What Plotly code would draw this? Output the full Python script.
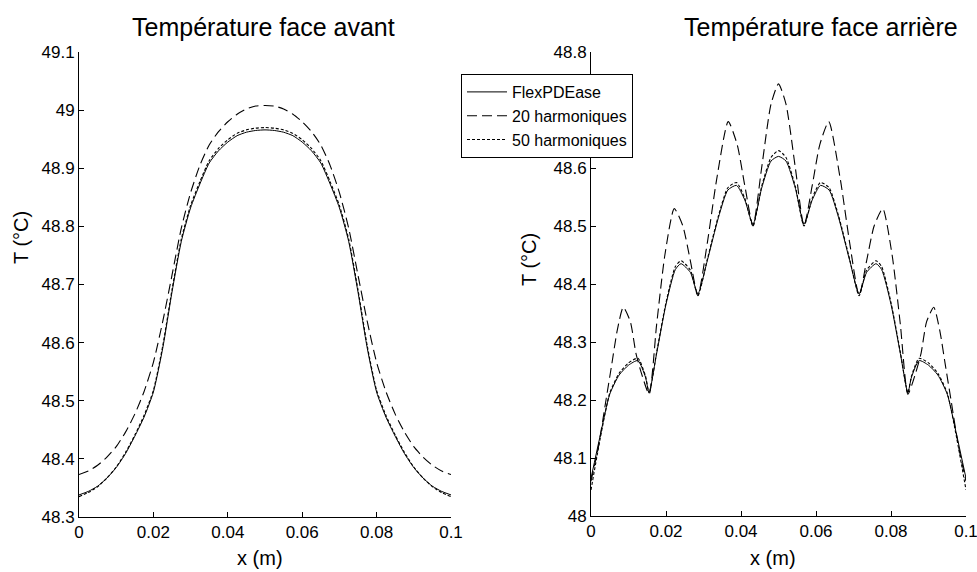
import plotly.graph_objects as go

# ---------------- data ----------------
series_names = ["FlexPDEase", "20 harmoniques", "50 harmoniques"]

# Left: Température face avant
x_av = [0, 0.0025, 0.005, 0.0075, 0.01, 0.0125, 0.015, 0.0175, 0.02, 0.0225, 0.025,
        0.0275, 0.03, 0.0325, 0.035, 0.0375, 0.04, 0.0425, 0.045, 0.0475, 0.05,
        0.0525, 0.055, 0.0575, 0.06, 0.0625, 0.065, 0.0675, 0.07, 0.0725, 0.075,
        0.0775, 0.08, 0.0825, 0.085, 0.0875, 0.09, 0.0925, 0.095, 0.0975, 0.1]
t_av_flex = [48.338, 48.344, 48.353, 48.367, 48.385, 48.409, 48.439, 48.472, 48.515, 48.590, 48.687,
             48.774, 48.832, 48.873, 48.909, 48.930, 48.945, 48.956, 48.962, 48.965, 48.966,
             48.965, 48.962, 48.956, 48.945, 48.930, 48.909, 48.873, 48.832, 48.774, 48.687,
             48.590, 48.515, 48.472, 48.439, 48.409, 48.385, 48.367, 48.353, 48.344, 48.338]
t_av_h20 = [48.373, 48.379, 48.389, 48.403, 48.421, 48.446, 48.477, 48.516, 48.566, 48.636, 48.716,
            48.797, 48.858, 48.905, 48.940, 48.963, 48.980, 48.993, 49.002, 49.007, 49.008,
            49.007, 49.002, 48.993, 48.980, 48.963, 48.940, 48.905, 48.858, 48.797, 48.716,
            48.636, 48.566, 48.516, 48.477, 48.446, 48.421, 48.403, 48.389, 48.379, 48.373]
t_av_h50 = [48.335, 48.342, 48.352, 48.367, 48.386, 48.411, 48.441, 48.475, 48.518, 48.594, 48.691,
            48.778, 48.836, 48.877, 48.913, 48.934, 48.949, 48.960, 48.966, 48.969, 48.970,
            48.969, 48.966, 48.960, 48.949, 48.934, 48.913, 48.877, 48.836, 48.778, 48.691,
            48.594, 48.518, 48.475, 48.441, 48.411, 48.386, 48.367, 48.352, 48.342, 48.335]

# Right: Température face arrière
x_ar_flex = [0, 0.0025, 0.005, 0.0075, 0.01, 0.0125, 0.0145, 0.0155, 0.0175, 0.02, 0.0225,
             0.024, 0.0265, 0.0285, 0.031, 0.034, 0.0365, 0.0388, 0.041, 0.0432, 0.0455, 0.048, 0.05,
             0.052, 0.0545, 0.0568, 0.059, 0.0612, 0.0635, 0.066, 0.069, 0.0715, 0.0735, 0.076,
             0.0775, 0.08, 0.0825, 0.0845, 0.0855, 0.0875, 0.09, 0.0925, 0.095, 0.0975, 0.1]
t_ar_flex = [48.065, 48.140, 48.210, 48.243, 48.260, 48.268, 48.240, 48.213, 48.280, 48.365, 48.425,
             48.435, 48.420, 48.383, 48.440, 48.515, 48.562, 48.570, 48.545, 48.503, 48.565, 48.612, 48.620,
             48.612, 48.565, 48.503, 48.545, 48.570, 48.562, 48.515, 48.440, 48.383, 48.420, 48.435,
             48.425, 48.365, 48.280, 48.213, 48.240, 48.268, 48.260, 48.243, 48.210, 48.140, 48.065]
t_ar_h50 = [48.045, 48.135, 48.212, 48.246, 48.264, 48.272, 48.242, 48.212, 48.282, 48.368, 48.430,
            48.440, 48.424, 48.380, 48.442, 48.518, 48.566, 48.575, 48.548, 48.500, 48.568, 48.618, 48.630,
            48.618, 48.568, 48.500, 48.548, 48.575, 48.566, 48.518, 48.442, 48.380, 48.424, 48.440,
            48.430, 48.368, 48.282, 48.212, 48.242, 48.272, 48.264, 48.246, 48.212, 48.135, 48.045]
x_ar_h20 = [0, 0.002, 0.004, 0.0055, 0.007, 0.0086, 0.0105, 0.012, 0.0135, 0.0155, 0.0175,
            0.0197, 0.0222, 0.0245, 0.0265, 0.0285, 0.031, 0.0335, 0.0366, 0.039, 0.041, 0.0432,
            0.0455, 0.048, 0.05,
            0.052, 0.0545, 0.0568, 0.059, 0.061, 0.0634, 0.0665, 0.069, 0.0715, 0.0735, 0.0755,
            0.0778, 0.0803, 0.0825, 0.0845, 0.0865, 0.088, 0.0895, 0.0914, 0.093, 0.0945, 0.096,
            0.098, 0.1]
t_ar_h20 = [48.060, 48.120, 48.200, 48.260, 48.320, 48.360, 48.335, 48.280, 48.245, 48.210, 48.330,
            48.450, 48.530, 48.500, 48.440, 48.380, 48.470, 48.580, 48.680, 48.640, 48.570, 48.500,
            48.600, 48.710, 48.745,
            48.710, 48.600, 48.500, 48.570, 48.640, 48.680, 48.580, 48.470, 48.380, 48.440, 48.500,
            48.530, 48.450, 48.330, 48.210, 48.245, 48.280, 48.335, 48.360, 48.320, 48.260, 48.200,
            48.120, 48.060]

x_ticks = [0, 0.02, 0.04, 0.06, 0.08, 0.1]
x_tick_text = ["0", "0.02", "0.04", "0.06", "0.08", "0.1"]
y_av_ticks = [48.3, 48.4, 48.5, 48.6, 48.7, 48.8, 48.9, 49.0, 49.1]
y_av_text = ["48.3", "48.4", "48.5", "48.6", "48.7", "48.8", "48.9", "49", "49.1"]
y_ar_ticks = [48.0, 48.1, 48.2, 48.3, 48.4, 48.5, 48.6, 48.7, 48.8]
y_ar_text = ["48", "48.1", "48.2", "48.3", "48.4", "48.5", "48.6", "48.7", "48.8"]

titles = ["Température face avant", "Température face arrière"]
x_title = "x (m)"
y_title = "T (°C)"

# ---------------- figure ----------------
W, H = 977, 572
FONT = "Liberation Sans, Arial, sans-serif"
styles = [dict(color="black", width=1, dash="solid"),
          dict(color="black", width=1.1, dash="10px,5px"),
          dict(color="black", width=1.1, dash="3px,2px")]

fig = go.Figure()
left_data = [t_av_flex, t_av_h20, t_av_h50]
for name, ys, st in zip(series_names, left_data, styles):
    fig.add_trace(go.Scatter(x=x_av, y=ys, mode="lines", name=name,
                             line=dict(shape="spline", smoothing=0.6, **st),
                             xaxis="x", yaxis="y", showlegend=True))
right_data = [(x_ar_flex, t_ar_flex), (x_ar_h20, t_ar_h20), (x_ar_flex, t_ar_h50)]
for name, (xs, ys), st in zip(series_names, right_data, styles):
    fig.add_trace(go.Scatter(x=xs, y=ys, mode="lines", name=name,
                             line=dict(shape="spline", smoothing=0.6, **st),
                             xaxis="x2", yaxis="y2", showlegend=False))

def px(v):
    return v / W

def py(v):
    return 1 - v / H

axis_common = dict(showline=True, linecolor="black", linewidth=1, ticks="inside", ticklen=5,
                   tickcolor="black", showgrid=False, zeroline=False, mirror=False,
                   automargin=False, ticklabeloverflow="allow",
                   tickfont=dict(family=FONT, size=17, color="black"))

fig.update_layout(
    template="none",
    width=W, height=H, autosize=False,
    margin=dict(l=0, r=0, t=0, b=0, pad=0),
    paper_bgcolor="white", plot_bgcolor="white",
    font=dict(family=FONT, color="black"),
    xaxis=dict(domain=[px(79), px(451)], range=[0, 0.1], tickvals=x_ticks, ticktext=x_tick_text,
               anchor="y", **axis_common),
    yaxis=dict(domain=[py(517), py(52)], range=[48.3, 49.1], tickvals=y_av_ticks, ticktext=y_av_text,
               anchor="x", **axis_common),
    xaxis2=dict(domain=[px(591), px(966)], range=[0, 0.1], tickvals=x_ticks, ticktext=x_tick_text,
                anchor="y2", **axis_common),
    yaxis2=dict(domain=[py(516), py(52)], range=[48.0, 48.8], tickvals=y_ar_ticks, ticktext=y_ar_text,
                anchor="x2", **axis_common),
    legend=dict(x=px(461), y=py(74), xanchor="left", yanchor="top", bgcolor="white",
                bordercolor="black", borderwidth=1, font=dict(family=FONT, size=16, color="black"),
                tracegroupgap=0, itemwidth=40),
    showlegend=True,
)

annots = [
    dict(text=titles[0], x=px(263), y=py(27)),
    dict(text=titles[1], x=px(821), y=py(27)),
]
for a in annots:
    fig.add_annotation(xref="paper", yref="paper", x=a["x"], y=a["y"], text=a["text"], showarrow=False,
                       xanchor="center", yanchor="middle", font=dict(family=FONT, size=25, color="black"))
for xx in (260, 773):
    fig.add_annotation(xref="paper", yref="paper", x=px(xx), y=py(558), text=x_title, showarrow=False,
                       xanchor="center", yanchor="middle", font=dict(family=FONT, size=20, color="black"))
for xx, yy in ((21, 238), (529, 260)):
    fig.add_annotation(xref="paper", yref="paper", x=px(xx), y=py(yy), text=y_title, showarrow=False,
                       textangle=-90, xanchor="center", yanchor="middle",
                       font=dict(family=FONT, size=20, color="black"))

fig.write_html("out.html", config={"displayModeBar": False},
               post_script="document.body.style.margin='0';")
